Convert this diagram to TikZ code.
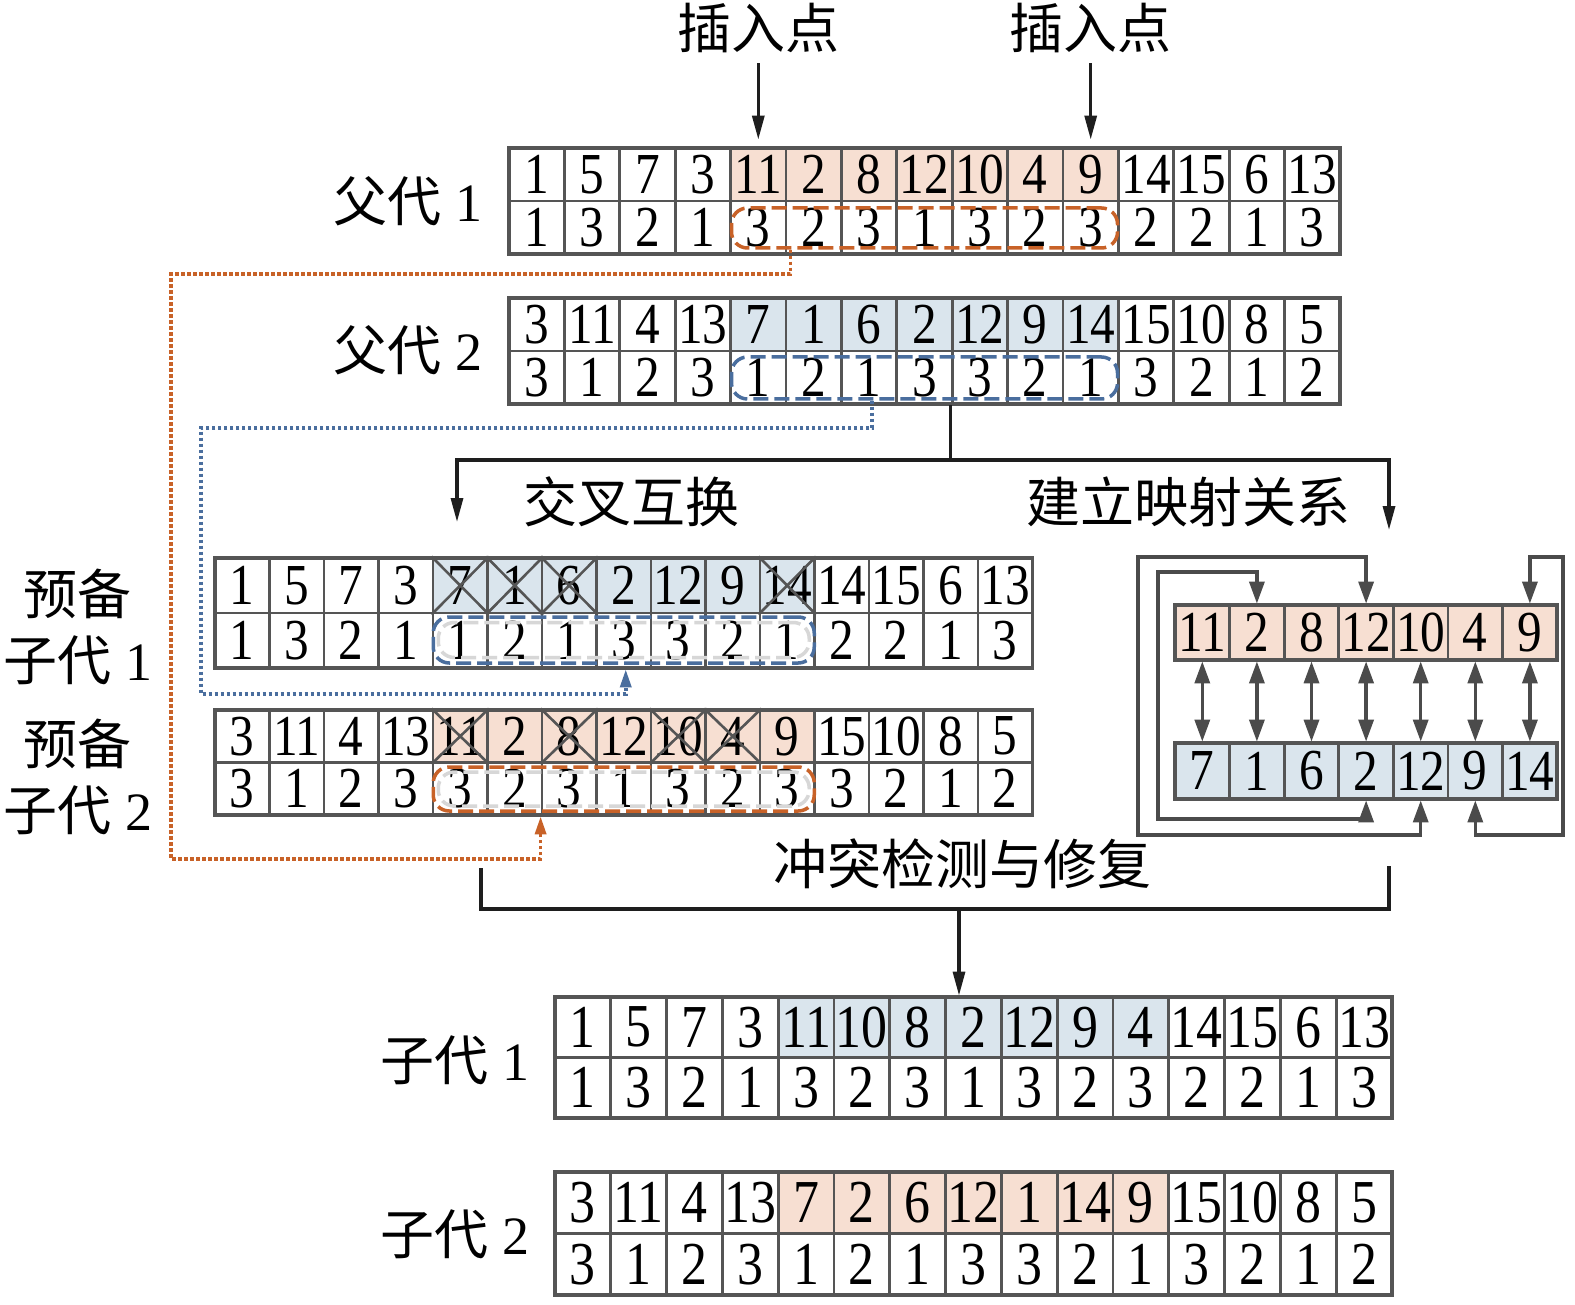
\documentclass[tikz,border=0pt]{standalone}
\usepackage{fontspec}
\setmainfont{Liberation Serif}
\newfontfamily\cjk{Noto Sans CJK SC}
\newfontfamily\numf[FakeStretch=0.85]{Liberation Serif}
\usetikzlibrary{arrows.meta,calc}
\definecolor{orfill}{RGB}{247,223,210}
\definecolor{blfill}{RGB}{218,229,237}
\definecolor{gridc}{RGB}{85,85,85}
\definecolor{ordash}{RGB}{200,98,40}
\definecolor{bldash}{RGB}{74,110,158}
\definecolor{grayd}{RGB}{215,215,215}
\definecolor{linec}{RGB}{30,30,30}
\definecolor{mapc}{RGB}{75,75,75}
\def\cfs{58}
% #1 name, #2 x0, #3 ytop, #4 w, #5 h, #6 row1, #7 row2, #8 fill colour of segment
\newcommand\mkgrid[8]{%
  \fill[#8] ({#2+4*#4},#3) rectangle ({#2+11*#4},{#3+#5});
  \foreach \v [count=\i] in {#6}
    \node[gcell, minimum width=#4, minimum height=#5] (#1a-\i) at ({#2+(\i-0.5)*#4},{#3+0.5*#5}) {\v};
  \foreach \v [count=\i] in {#7}
    \node[gcell, minimum width=#4, minimum height=#5] (#1b-\i) at ({#2+(\i-0.5)*#4},{#3+1.5*#5}) {\v};
  \draw[gframe] (#2,#3) rectangle ({#2+15*#4},{#3+2*#5});
}
\begin{document}
\begin{tikzpicture}[x=1pt,y=-1pt,
  gcell/.style={draw=gridc, line width=2.8pt, inner sep=0pt, text=black, font=\numf\fontsize{\cfs}{\cfs}\selectfont},
  gframe/.style={draw=gridc, line width=3.8pt},
  xl/.style={draw=gridc, line width=2.6pt},
  segb/.style={rounded corners=16pt, line width=3.5pt, dash pattern=on 15pt off 6pt, inner sep=0pt},
  lab/.style={font=\fontsize{54}{66}\selectfont, inner sep=0pt, align=center},
  blk/.style={draw=linec, line width=3.2pt},
  tipb/.style={-{Triangle[width=12pt,length=24pt]}},
  mapl/.style={draw=mapc, line width=3.4pt},
  mtip2/.style={{Triangle[width=15pt,length=22pt]}-{Triangle[width=15pt,length=22pt]}},
  odot/.style={draw=ordash, line width=3.5pt, dash pattern=on 3.5pt off 2.5pt},
  bdot/.style={draw=bldash, line width=3.5pt, dash pattern=on 3.5pt off 2.5pt},
  dtip/.style={-{Triangle[width=11pt,length=18pt]}}
]
\useasboundingbox (0,0) rectangle (1575,1305);
\fill[white] (0,0) rectangle (1575,1305);

% ---------- parents ----------
\mkgrid{p1}{509}{148}{55.4}{53}{1,5,7,3,11,2,8,12,10,4,9,14,15,6,13}{1,3,2,1,3,2,3,1,3,2,3,2,2,1,3}{orfill}
\mkgrid{p2}{509}{298}{55.4}{53}{3,11,4,13,7,1,6,2,12,9,14,15,10,8,5}{3,1,2,3,1,2,1,3,3,2,1,3,2,1,2}{blfill}

\node[segb, draw=ordash, minimum width=386, minimum height=40] (p1seg) at (924.5,228) {};
\node[segb, draw=bldash, minimum width=386, minimum height=42] (p2seg) at (924.5,378) {};

% labels
\node[lab] (ins1) at (758,28) {\cjk 插入点};
\node[lab] (ins2) at (1090.7,28) {\cjk 插入点};
\draw[blk, tipb, shorten <=10pt, shorten >=7pt] (ins1.south -| p1a-5) -- (p1a-5.north);
\draw[blk, tipb, shorten <=10pt, shorten >=7pt] (ins2.south -| p1a-11) -- (p1a-11.north);

\node[lab] (lp1) at (408,201) {{\cjk 父代} 1};
\node[lab] (lp2) at (408,350) {{\cjk 父代} 2};

% ---------- pre-children ----------
\mkgrid{pc1}{215}{558}{54.5}{55}{1,5,7,3,7,1,6,2,12,9,14,14,15,6,13}{1,3,2,1,1,2,1,3,3,2,1,2,2,1,3}{blfill}
\mkgrid{pc2}{215}{710}{54.5}{52.5}{3,11,4,13,11,2,8,12,10,4,9,15,10,8,5}{3,1,2,3,3,2,3,1,3,2,3,3,2,1,2}{orfill}

\foreach \c in {5,6,7,11}
  \draw[xl] (pc1a-\c.north west) -- (pc1a-\c.south east) (pc1a-\c.north east) -- (pc1a-\c.south west);
\foreach \c in {5,7,9,10}
  \draw[xl] (pc2a-\c.north west) -- (pc2a-\c.south east) (pc2a-\c.north east) -- (pc2a-\c.south west);

\node[segb, draw=grayd, minimum width=371, minimum height=35] (pc1segg) at (623.75,640) {};
\node[segb, draw=bldash, minimum width=381, minimum height=46] (pc1seg) at (623.75,640) {};
\node[segb, draw=grayd, minimum width=371, minimum height=34] (pc2segg) at (623.75,789) {};
\node[segb, draw=ordash, minimum width=381, minimum height=44] (pc2seg) at (623.75,789) {};

\node[lab] (lpc1) at (78,627) {\cjk 预备\\{\cjk 子代} 1};
\node[lab] (lpc2) at (78,777) {\cjk 预备\\{\cjk 子代} 2};

% dotted transfers
\coordinate (oA) at (171,274);
\coordinate (oB) at (171,859);
\draw[odot, dtip] ($(p1b-6.west |- p1seg.south)+(6,0)$) |- (oA) |- (oB) -| (pc2b-7.south west);
\coordinate (bA) at (201,428);
\coordinate (bB) at (201,694);
\draw[bdot, dtip] ($(p2b-7.center |- p2seg.south)+(3,0)$) |- (bA) |- (bB) -| ($(pc1b-8.south)+(2,0)$);

% crossover / mapping connectors
\coordinate (hsplit) at (0,460);
\coordinate (split) at (p2b-9.south west |- hsplit);
\coordinate (cxL) at (457,522);
\coordinate (cxR) at (1389,530);
\draw[blk] (p2b-9.south west) -- (split);
\draw[blk, tipb] (split) -| (cxL);
\draw[blk, tipb] (split) -| (cxR);
\node[lab] (tcross) at (631,502) {\cjk 交叉互换};
\node[lab] (tmap) at (1188,502) {\cjk 建立映射关系};

% ---------- mapping ----------
\foreach \v [count=\i] in {11,2,8,12,10,4,9}
  \node[gcell, fill=orfill, minimum width=54.6, minimum height=55] (m1-\i) at ({1175+(\i-0.5)*54.6},632.5) {\v};
\draw[gframe] (1175,605) rectangle (1557,660);
\foreach \v [count=\i] in {7,1,6,2,12,9,14}
  \node[gcell, fill=blfill, minimum width=54.6, minimum height=56] (m2-\i) at ({1175+(\i-0.5)*54.6},771) {\v};
\draw[gframe] (1175,743) rectangle (1557,799);
\foreach \i in {1,...,7}
  \draw[mapl, mtip2] (m1-\i.south) -- (m2-\i.north);

\coordinate (lAb) at (1138,835);
\coordinate (lAt) at (1138,557);
\draw[mapl, mtip2] (m2-5.south) |- (lAb) -- (lAt) -| (m1-4.north);
\coordinate (lBb) at (1158,819);
\coordinate (lBt) at (1158,572);
\draw[mapl, mtip2] (m2-4.south) |- (lBb) -- (lBt) -| (m1-2.north);
\coordinate (lCb) at (1563,835);
\coordinate (lCt) at (1563,557);
\draw[mapl, mtip2] (m2-6.south) |- (lCb) -- (lCt) -| (m1-7.north);

% ---------- conflict repair ----------
\node[lab] (trep) at (962,864) {\cjk 冲突检测与修复};
\coordinate (bkL) at (481,868);
\coordinate (bkLb) at (481,909);
\coordinate (bkRb) at (1389,909);
\coordinate (bkR) at (1389,866);
\coordinate (bkM) at (959,909);
\draw[blk] (bkL) -- (bkLb) -- (bkRb) -- (bkR);

% ---------- children ----------
\def\cfs{61}
\mkgrid{c1}{555}{997}{55.8}{60.5}{1,5,7,3,11,10,8,2,12,9,4,14,15,6,13}{1,3,2,1,3,2,3,1,3,2,3,2,2,1,3}{blfill}
\mkgrid{c2}{555}{1172}{55.8}{61.5}{3,11,4,13,7,2,6,12,1,14,9,15,10,8,5}{3,1,2,3,1,2,1,3,3,2,1,3,2,1,2}{orfill}
\draw[blk, tipb] (bkM) -- (bkM |- c1a-8.north);

\node[lab] (lc1) at (455,1060) {{\cjk 子代} 1};
\node[lab] (lc2) at (455,1234) {{\cjk 子代} 2};
\end{tikzpicture}
\end{document}
